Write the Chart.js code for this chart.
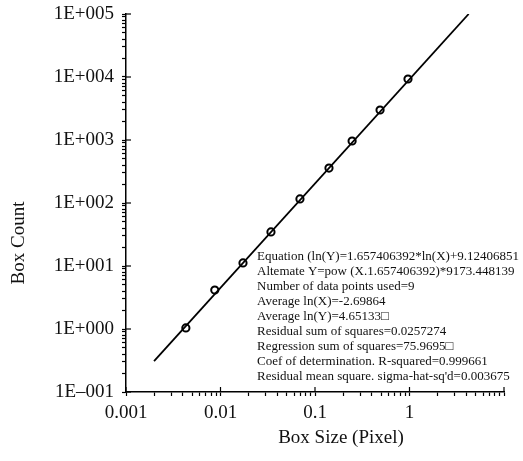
<!DOCTYPE html>
<html>
<head>
<meta charset="utf-8">
<script src="https://cdn.jsdelivr.net/npm/chart.js@4.4.1/dist/chart.umd.min.js"></script>
<style>
  html, body { margin: 0; padding: 0; background: #fff; }
  #wrap { width: 523px; height: 461px; position: relative; }
</style>
</head>
<body>
<div id="wrap"><canvas id="chart"></canvas></div>
<script>
const boxSize = [0.0043, 0.0087, 0.0173, 0.0342, 0.0693, 0.1406, 0.247, 0.488, 0.964];
const boxCount = [1.04, 4.16, 11.2, 34.7, 116, 359, 964, 2995, 9290];
// ends of the regression line
const fitX = [0.00198, 4.23];
const fitY = [0.31, 100000];

const xTickValues = [0.001, 0.01, 0.1, 1];
const xTickLabels = ['0.001', '0.01', '0.1', '1'];
const yTickValues = [0.1, 1, 10, 100, 1000, 10000, 100000];
const yTickLabels = ['1E\u2013001', '1E+000', '1E+001', '1E+002', '1E+003', '1E+004', '1E+005'];

const statLines = [
  'Equation (ln(Y)=1.657406392*ln(X)+9.12406851',
  'Altemate Y=pow (X.1.657406392)*9173.448139',
  'Number of data points used=9',
  'Average ln(X)=-2.69864',
  'Average ln(Y)=4.65133\u25A1',
  'Residual sum of squares=0.0257274',
  'Regression sum of squares=75.9695\u25A1',
  'Coef of determination. R-squared=0.999661',
  "Residual mean square. sigma-hat-sq'd=0.003675"
];

const SERIF = "'Liberation Serif', 'Times New Roman', serif";

// 1..9 per decade, like the original axis
const decadeTicks = (lo, hi) => {
  const out = [];
  for (let e = lo; e < hi; e++) {
    for (let m = 1; m <= 9; m++) out.push({ value: +(m * Math.pow(10, e)).toPrecision(6) });
  }
  out.push({ value: Math.pow(10, hi) });
  return out;
};

const labelFor = (vals, labels) => (value) => {
  const i = vals.findIndex(v => Math.abs(v - value) / v < 1e-6);
  return i >= 0 ? labels[i] : '';
};

const extras = {
  id: 'extras',
  afterDraw(chart) {
    const { ctx, chartArea, scales } = chart;
    ctx.save();
    ctx.strokeStyle = '#000';
    ctx.lineWidth = 1.2;
    // major ticks poke into the plot
    xTickValues.concat([10]).forEach(v => {
      const px = scales.x.getPixelForValue(v);
      ctx.beginPath();
      ctx.moveTo(px, chartArea.bottom);
      ctx.lineTo(px, chartArea.bottom - 5);
      ctx.stroke();
    });
    yTickValues.forEach(v => {
      const py = scales.y.getPixelForValue(v);
      ctx.beginPath();
      ctx.moveTo(chartArea.left, py);
      ctx.lineTo(chartArea.left + 5, py);
      ctx.stroke();
    });

    ctx.fillStyle = '#111';
    ctx.textBaseline = 'middle';
    ctx.font = '13px ' + SERIF;
    ctx.textAlign = 'left';
    statLines.forEach((t, i) => {
      ctx.fillText(t, 257, 257 + i * 15);
    });

    // axis titles sit a bit off-centre in the original
    ctx.font = '19px ' + SERIF;
    ctx.textAlign = 'center';
    ctx.fillText('Box Size (Pixel)', 341, 438);
    ctx.translate(19, 243);
    ctx.rotate(-Math.PI / 2);
    ctx.fillText('Box Count', 0, 0);
    ctx.restore();
  }
};

new Chart(document.getElementById('chart'), {
  type: 'scatter',
  data: {
    datasets: [
      {
        label: 'fit',
        data: fitX.map((x, i) => ({ x: x, y: fitY[i] })),
        showLine: true,
        borderColor: '#000',
        borderWidth: 1.8,
        pointRadius: 0
      },
      {
        label: 'points',
        data: boxSize.map((x, i) => ({ x: x, y: boxCount[i] })),
        pointStyle: 'circle',
        pointRadius: 3.6,
        pointBorderWidth: 2,
        pointBorderColor: '#000',
        pointBackgroundColor: '#fff'
      }
    ]
  },
  options: {
    responsive: true,
    maintainAspectRatio: false,
    animation: false,
    layout: { padding: { top: 14, right: 19, left: 0, bottom: 0 } },
    plugins: { legend: { display: false }, tooltip: { enabled: false } },
    scales: {
      x: {
        type: 'logarithmic',
        min: 0.001,
        max: 10,
        afterBuildTicks: (scale) => { scale.ticks = decadeTicks(-3, 1); },
        afterFit: (scale) => { scale.height = 69; },
        grid: { drawOnChartArea: false, drawTicks: true, tickLength: 4, tickColor: '#000', tickWidth: 1.2 },
        border: { display: true, color: '#000', width: 1.5 },
        ticks: {
          autoSkip: false,
          maxRotation: 0,
          padding: 6,
          color: '#111',
          font: { family: SERIF, size: 19 },
          callback: labelFor(xTickValues, xTickLabels)
        }
      },
      y: {
        type: 'logarithmic',
        min: 0.1,
        max: 100000,
        afterBuildTicks: (scale) => { scale.ticks = decadeTicks(-1, 5); },
        afterFit: (scale) => {
          scale.width = 126;
          scale.paddingTop = 0;
          scale.paddingBottom = 0;
        },
        grid: { drawOnChartArea: false, drawTicks: true, tickLength: 4, tickColor: '#000', tickWidth: 1.2 },
        border: { display: true, color: '#000', width: 1.5 },
        ticks: {
          autoSkip: false,
          padding: 8,
          color: '#111',
          font: { family: SERIF, size: 19 },
          callback: labelFor(yTickValues, yTickLabels)
        }
      }
    }
  },
  plugins: [extras]
});
</script>
</body>
</html>
